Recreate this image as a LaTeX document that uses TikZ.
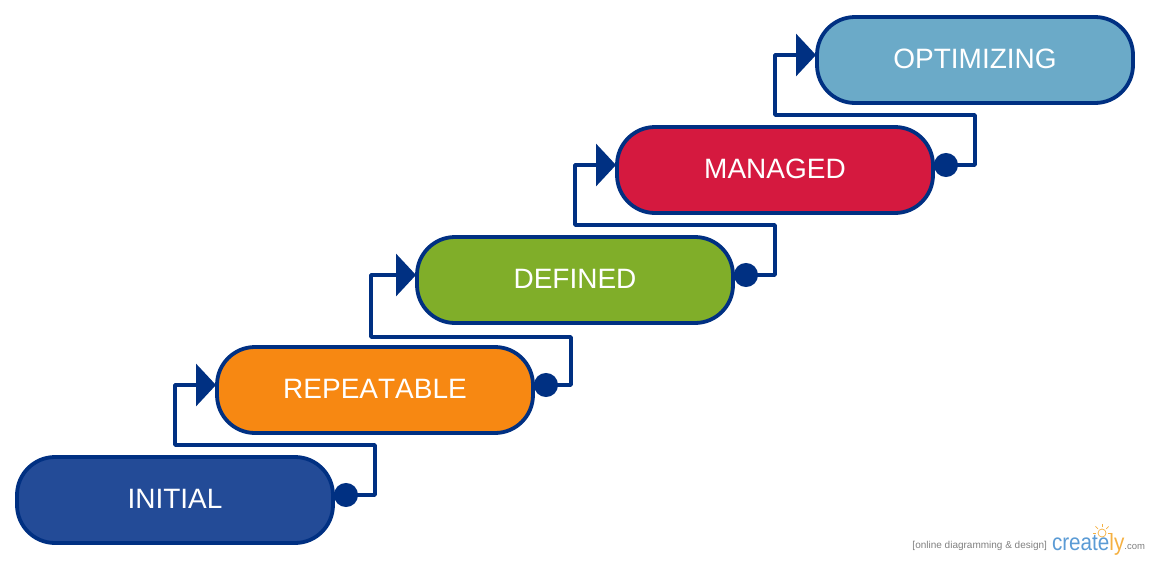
\documentclass[tikz,border=0pt]{standalone}
\usepackage{fontspec}
\setmainfont{Liberation Sans}[Kerning=Off]
\usepackage{xcolor}
\usetikzlibrary{positioning, arrows.meta}
\definecolor{linkblue}{HTML}{003082}
\definecolor{initialblue}{HTML}{234B97}
\definecolor{repeatorange}{HTML}{F78812}
\definecolor{definedgreen}{HTML}{80AE29}
\definecolor{managedred}{HTML}{D5193F}
\definecolor{optimizeblue}{HTML}{6BAAC8}
\definecolor{logoblue}{HTML}{5B9BD5}
\definecolor{logoorange}{HTML}{F5B041}
\tikzset{
    stage/.style={draw=linkblue, line width=3.8pt, rounded corners=38pt, outer sep=0pt,
        minimum width=316pt, minimum height=86pt, text=white, text height=21pt, text depth=4pt,
        font=\fontsize{28}{32}\selectfont},
    link/.style={draw=linkblue, line width=3.5pt, line join=round, shorten >=1pt,
        {Circle[length=24pt,width=24pt]}-{Triangle[length=20pt,width=42pt]}},
    watermark/.style={inner sep=0pt, outer sep=0pt}
}
\begin{document}
\begin{tikzpicture}[x=1pt, y=-1pt]
    \useasboundingbox (0,0) rectangle (1150,560);

    \node (initial) [stage, fill=initialblue] at (175,500) {INITIAL};
    \node (repeatable) [stage, fill=repeatorange, above=24pt of initial, xshift=200pt] {REPEATABLE};
    \node (defined) [stage, fill=definedgreen, above=24pt of repeatable, xshift=200pt] {DEFINED};
    \node (managed) [stage, fill=managedred, above=24pt of defined, xshift=200pt] {MANAGED};
    \node (optimizing) [stage, fill=optimizeblue, above=24pt of managed, xshift=200pt] {OPTIMIZING};

    % Connectors between stages
    \foreach \from/\to/\rx/\lx/\my in {initial/repeatable/375/175/445, repeatable/defined/571/371/337,
        defined/managed/775/575/225, managed/optimizing/975/775/115}
    {
    \draw [link] ([xshift=1pt,yshift=5pt]\from.east) -| (\rx,\my) -- (\lx,\my) |- ([yshift=5pt]\to.west);
    }

    % Logo in the corner
    \node (tagline) [watermark, anchor=base east, text=gray, font=\fontsize{10}{12}\selectfont] at (1047,548) {[online diagramming \& design]};
    \node (logo) [watermark, text=logoblue, font=\fontsize{23.5}{26}\selectfont, anchor=base west] at (1052,550)
        {\scalebox{0.88}[1]{create\textcolor{logoorange}{ly}}};
    \node (dotcom) [watermark, text=gray, font=\fontsize{9.5}{11}\selectfont, anchor=base east] at (1145,549) {.com};
    \node (bulb) [circle, draw=logoorange, line width=0.7pt, inner sep=0pt, minimum size=8pt] at (1102,533) {};
    \foreach \a in {0,45,90,135,180}
    {
    \draw [logoorange, line width=0.7pt] (bulb.\a) ++(\a:1.5pt) -- ++(\a:3.5pt);
    }
\end{tikzpicture}
\end{document}
